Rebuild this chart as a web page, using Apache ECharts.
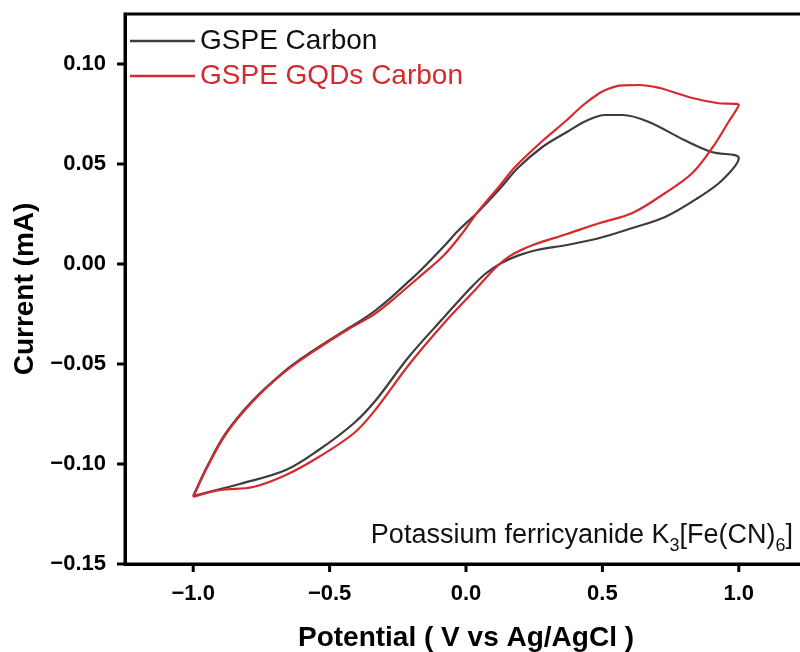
<!DOCTYPE html>
<html>
<head>
<meta charset="utf-8">
<script src="https://cdn.jsdelivr.net/npm/echarts@6/dist/echarts.min.js"></script>
<style>
  html, body { margin: 0; padding: 0; background: #fff; }
  #main { width: 800px; height: 652px; }
</style>
</head>
<body>
<div id="main"></div>
<script>
// GSPE Carbon: forward scan then reverse scan
const carbonV = [-1.0, -0.93, -0.83, -0.66, -0.54, -0.41, -0.33, -0.21, -0.08, 0.01, 0.07, 0.13, 0.19, 0.26, 0.37, 0.49, 0.61, 0.73, 0.85, 0.94, 1.0,
  0.90, 0.80, 0.67, 0.575, 0.51, 0.44, 0.37, 0.28, 0.19, 0.12, 0.04, -0.03, -0.08, -0.165, -0.21, -0.275, -0.33, -0.38, -0.43, -0.54, -0.60, -0.66, -0.78, -0.88, -0.95, -0.995, -1.0];
const carbonI = [-0.116, -0.1135, -0.110, -0.103, -0.093, -0.0795, -0.068, -0.0465, -0.0265, -0.013, -0.005, 0.0005, 0.0042, 0.007, 0.0095, 0.013, 0.018, 0.0235, 0.033, 0.042, 0.053,
  0.056, 0.062, 0.071, 0.0745, 0.0745, 0.0715, 0.0660, 0.0585, 0.048, 0.037, 0.0255, 0.0165, 0.009, -0.003, -0.0087, -0.0168, -0.023, -0.0278, -0.032, -0.0415, -0.047, -0.053, -0.068, -0.0845, -0.1015, -0.1145, -0.116];

// GSPE GQDs Carbon
const gqdsV = [-1.0, -0.90, -0.78, -0.66, -0.54, -0.41, -0.33, -0.21, -0.08, 0.04, 0.10, 0.14, 0.18, 0.245, 0.37, 0.49, 0.61, 0.73, 0.83, 0.905, 0.96, 1.0,
  0.92, 0.83, 0.77, 0.71, 0.635, 0.575, 0.55, 0.52, 0.49, 0.43, 0.37, 0.28, 0.18, 0.12, 0.04, -0.01, -0.08, -0.18, -0.28, -0.33, -0.38, -0.43, -0.54, -0.66, -0.78, -0.88, -0.95, -0.995, -1.0];
const gqdsI = [-0.1165, -0.113, -0.1115, -0.1055, -0.0965, -0.0845, -0.0725, -0.0505, -0.0295, -0.012, -0.003, 0.002, 0.0055, 0.0095, 0.015, 0.0205, 0.0255, 0.0355, 0.0455, 0.0585, 0.0705, 0.0795,
  0.0805, 0.083, 0.0855, 0.088, 0.0895, 0.0893, 0.0888, 0.0875, 0.0855, 0.0795, 0.0720, 0.0615, 0.0485, 0.0385, 0.0255, 0.016, 0.0045, -0.0075, -0.0192, -0.0245, -0.0287, -0.0325, -0.042, -0.0535, -0.0685, -0.085, -0.102, -0.115, -0.1165];

const xTicks = [-1.0, -0.5, 0.0, 0.5, 1.0];
const yTicks = [-0.15, -0.10, -0.05, 0.00, 0.05, 0.10];
const X_MIN = -1.25, X_MAX = 1.25;
const Y_MIN = -0.15, Y_MAX = 0.125;

const FONT = '"Liberation Sans", Arial, sans-serif';
const GRAY = '#3d3d3d';
const RED = '#d42a2f';
const TICK = 8;

const zip = (a, b) => a.map((v, i) => [v, b[i]]);
const minus = s => s.replace('-', '\u2212');

const annotation = {
  type: 'text',
  x: 793, y: 533,
  style: {
    text: '{t|Potassium ferricyanide K}{s|3}{t|[Fe(CN)}{s|6}{t|]}',
    align: 'right', verticalAlign: 'middle',
    fontFamily: FONT,
    rich: {
      t: { fontFamily: FONT, fontSize: 27, lineHeight: 32, fill: '#111', verticalAlign: 'bottom' },
      s: { fontFamily: FONT, fontSize: 18, lineHeight: 22, fill: '#111', verticalAlign: 'bottom', padding: [0, 0, -6, 0] }
    }
  }
};

let myChart = echarts.init(document.getElementById('main'));
myChart.setOption({
  animation: false,
  backgroundColor: '#fff',
  grid: {
    left: 125, top: 14, right: -7, bottom: 88,
    outerBoundsMode: 'none',
    containLabel: false,
    show: true, borderColor: '#000', borderWidth: 3
  },
  legend: {
    orient: 'vertical',
    left: 125, top: 22,
    icon: 'rect',
    itemWidth: 65, itemHeight: 2.5, itemGap: 7,
    textStyle: { fontFamily: FONT, fontSize: 28 },
    data: [
      { name: 'GSPE Carbon', textStyle: { color: '#111' } },
      { name: 'GSPE GQDs Carbon', textStyle: { color: RED } }
    ]
  },
  xAxis: {
    type: 'value',
    min: X_MIN, max: X_MAX,
    name: 'Potential ( V vs Ag/AgCl )',
    nameLocation: 'middle', nameGap: 60,
    nameTextStyle: { fontFamily: FONT, fontSize: 28, fontWeight: 'bold', color: '#000' },
    axisLine: { show: true, onZero: false, lineStyle: { color: '#000', width: 3 } },
    axisTick: { show: false },
    axisLabel: {
      customValues: xTicks, margin: 19,
      fontFamily: FONT, fontSize: 22, fontWeight: 'bold', color: '#000',
      formatter: v => minus(v.toFixed(1))
    },
    splitLine: { show: false }
  },
  yAxis: {
    type: 'value',
    min: Y_MIN, max: Y_MAX,
    name: 'Current (mA)',
    nameLocation: 'middle', nameGap: 86, nameRotate: 90,
    nameTextStyle: { fontFamily: FONT, fontSize: 28, fontWeight: 'bold', color: '#000' },
    axisLine: { show: true, onZero: false, lineStyle: { color: '#000', width: 3 } },
    axisTick: { show: false },
    axisLabel: {
      customValues: yTicks, margin: 19,
      fontFamily: FONT, fontSize: 22, fontWeight: 'bold', color: '#000',
      formatter: v => minus(v.toFixed(2))
    },
    splitLine: { show: false }
  },
  graphic: [annotation],
  series: [
    {
      name: 'GSPE Carbon',
      type: 'line',
      symbol: 'none',
      smooth: 0.35,
      lineStyle: { color: GRAY, width: 2.2 },
      itemStyle: { color: GRAY },
      data: zip(carbonV, carbonI)
    },
    {
      name: 'GSPE GQDs Carbon',
      type: 'line',
      symbol: 'none',
      smooth: 0.35,
      lineStyle: { color: RED, width: 2.2 },
      itemStyle: { color: RED },
      data: zip(gqdsV, gqdsI)
    }
  ]
});

// outward tick marks, positioned with the chart's own axis scales
const tickLines = [];
xTicks.forEach(v => {
  const p = myChart.convertToPixel({ gridIndex: 0 }, [v, Y_MIN]);
  tickLines.push({ type: 'line', z: 100, shape: { x1: p[0], y1: p[1], x2: p[0], y2: p[1] + TICK }, style: { stroke: '#000', lineWidth: 3 } });
});
yTicks.forEach(v => {
  const p = myChart.convertToPixel({ gridIndex: 0 }, [X_MIN, v]);
  tickLines.push({ type: 'line', z: 100, shape: { x1: p[0] - TICK, y1: p[1], x2: p[0], y2: p[1] }, style: { stroke: '#000', lineWidth: 3 } });
});
myChart.setOption({ graphic: [annotation].concat(tickLines) }, { replaceMerge: ['graphic'] });
</script>
</body>
</html>
